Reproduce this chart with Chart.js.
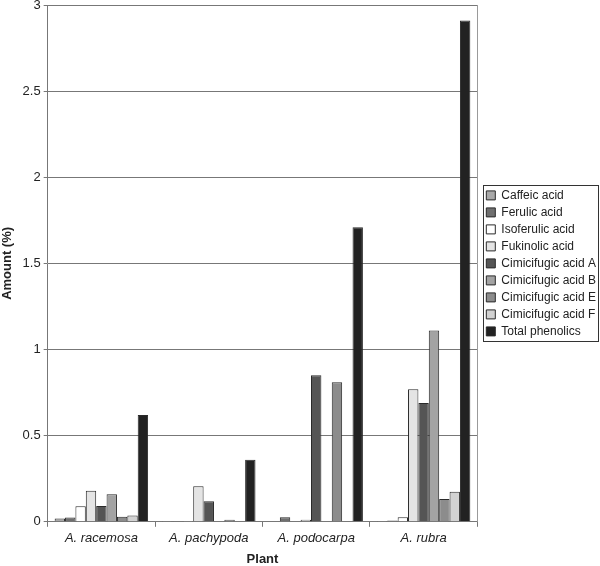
<!DOCTYPE html>
<html>
<head>
<meta charset="utf-8">
<script src="https://cdn.jsdelivr.net/npm/chart.js@4"></script>
<style>
  html, body { margin: 0; padding: 0; background: #fff; }
  #wrap { width: 600px; height: 566px; }
</style>
</head>
<body>
<div id="wrap"><canvas id="chart" width="600" height="566"></canvas></div>
<script>
const plants = ["A. racemosa", "A. pachypoda", "A. podocarpa", "A. rubra"];

const caffeic = [0.019, 0.005, 0, 0.005];
const ferulic = [0.025, 0.005, 0.027, 0.008];
const isoferulic = [0.09, 0.002, 0, 0.027];
const fukinolic = [0.18, 0.206, 0.012, 0.77];
const cimicifugicA = [0.092, 0.12, 0.85, 0.69];
const cimicifugicB = [0.16, 0.002, 0.003, 1.11];
const cimicifugicE = [0.029, 0.012, 0.81, 0.132];
const cimicifugicF = [0.037, 0.003, 0.003, 0.174];
const totalPhenolics = [0.62, 0.36, 1.71, 2.91];

const yTicks = [0, 0.5, 1, 1.5, 2, 2.5, 3];

const series = [
  ["Caffeic acid", caffeic, "#a8a8a8"],
  ["Ferulic acid", ferulic, "#6f6f6f"],
  ["Isoferulic acid", isoferulic, "#ffffff"],
  ["Fukinolic acid", fukinolic, "#e4e4e4"],
  ["Cimicifugic acid A", cimicifugicA, "#555555"],
  ["Cimicifugic acid B", cimicifugicB, "#a3a3a3"],
  ["Cimicifugic acid E", cimicifugicE, "#8c8c8c"],
  ["Cimicifugic acid F", cimicifugicF, "#d2d2d2"],
  ["Total phenolics", totalPhenolics, "#222222"],
];

const LEGEND_GAP = 4;

// widen the legend a bit so there is a gap between plot and legend box
const legendGapPlugin = {
  id: "legendGap",
  afterInit(chart) {
    const lg = chart.legend;
    const fit = lg.fit.bind(lg);
    lg.fit = function () { fit(); this.width += LEGEND_GAP; };
    const draw = lg.draw.bind(lg);
    lg.draw = function () {
      const ctx = this.ctx;
      ctx.save();
      ctx.translate(LEGEND_GAP, 0);
      draw();
      ctx.restore();
    };
  }
};

// frame around the legend and right edge of the plot
const framePlugin = {
  id: "frame",
  afterDraw(chart) {
    const ctx = chart.ctx;
    const a = chart.chartArea;
    ctx.save();
    ctx.strokeStyle = "#9a9a9a";
    ctx.lineWidth = 1;
    ctx.beginPath();
    ctx.moveTo(Math.round(a.right) + 0.5, a.top);
    ctx.lineTo(Math.round(a.right) + 0.5, a.bottom);
    ctx.stroke();

    const boxes = chart.legend.legendHitBoxes;
    if (boxes && boxes.length) {
      const left = Math.min(...boxes.map(b => b.left)) - 3 + LEGEND_GAP;
      const top = Math.min(...boxes.map(b => b.top)) - 4;
      const right = Math.max(...boxes.map(b => b.left + b.width)) + 2 + LEGEND_GAP;
      const bottom = Math.max(...boxes.map(b => b.top + b.height)) + 4;
      ctx.strokeStyle = "#333";
      ctx.strokeRect(Math.round(left) + 0.5, Math.round(top) + 0.5,
        Math.round(right - left), Math.round(bottom - top));
    }
    ctx.restore();
  }
};

new Chart(document.getElementById("chart"), {
  type: "bar",
  data: {
    labels: plants,
    datasets: series.map(([label, values, color]) => ({
      label: label,
      data: values,
      backgroundColor: color,
      borderColor: "#2a2a2a",
      borderWidth: 1,
      borderSkipped: "bottom",
      categoryPercentage: 0.87,
      barPercentage: 1.0,
    })),
  },
  options: {
    responsive: false,
    animation: false,
    layout: { padding: { top: 5, right: -6, left: 0, bottom: -1 } },
    plugins: {
      tooltip: { enabled: false },
      legend: {
        position: "right",
        align: "center",
        fullSize: false,
        labels: {
          boxWidth: 9,
          boxHeight: 9,
          padding: 5,
          color: "#222",
          font: { family: "'Liberation Sans', Arial, sans-serif", size: 12 },
        },
      },
    },
    scales: {
      x: {
        grid: {
          display: true,
          drawOnChartArea: false,
          drawTicks: true,
          tickLength: 5,
          color: "#777",
          offset: true,
        },
        border: { color: "#777" },
        ticks: {
          color: "#222",
          padding: 4,
          font: { family: "'Liberation Sans', Arial, sans-serif", size: 13, style: "italic" },
        },
        title: {
          display: true,
          text: "Plant",
          color: "#222",
          padding: { top: 1, bottom: 0 },
          font: { family: "'Liberation Sans', Arial, sans-serif", size: 13, weight: "bold" },
        },
      },
      y: {
        min: 0,
        max: 3,
        afterBuildTicks(scale) {
          scale.ticks = yTicks.map(v => ({ value: v }));
        },
        afterFit(scale) {
          scale.paddingTop = 0;
        },
        grid: {
          color: "#777",
          tickLength: 4,
        },
        border: { color: "#777" },
        ticks: {
          color: "#222",
          padding: 3,
          font: { family: "'Liberation Sans', Arial, sans-serif", size: 13 },
          callback: v => String(v),
        },
        title: {
          display: true,
          text: "Amount (%)",
          color: "#222",
          padding: { top: 0, bottom: 4 },
          font: { family: "'Liberation Sans', Arial, sans-serif", size: 13, weight: "bold" },
        },
      },
    },
  },
  plugins: [legendGapPlugin, framePlugin],
});
</script>
</body>
</html>
